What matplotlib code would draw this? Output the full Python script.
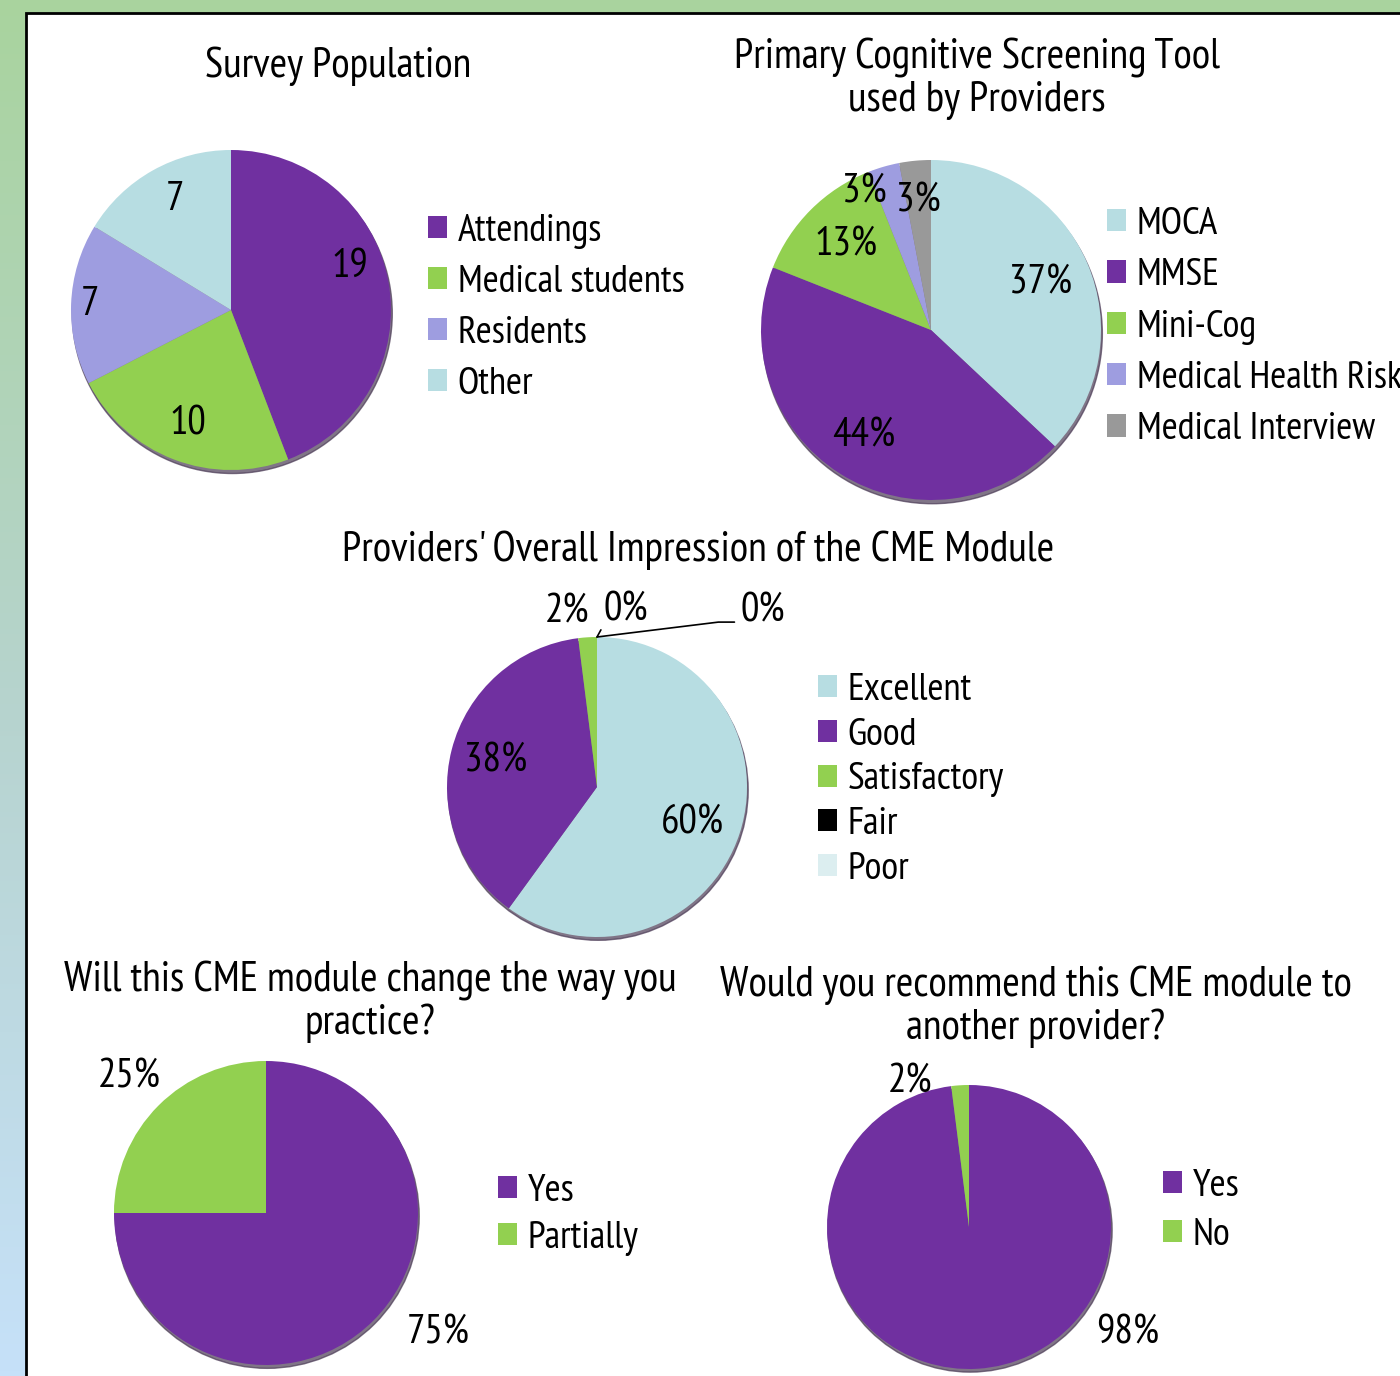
import numpy as np
import matplotlib
matplotlib.use('Agg')
import matplotlib.pyplot as plt
from matplotlib.patches import Rectangle, Circle

plt.rcParams['font.family'] = ['PT Sans Narrow', 'DejaVu Sans']

# ---- data ----
pop_labels = ['Attendings', 'Medical students', 'Residents', 'Other']
pop_values = [19, 10, 7, 7]

tool_labels = ['MOCA', 'MMSE', 'Mini-Cog', 'Medical Health Risk', 'Medical Interview']
tool_values = [37, 44, 13, 3, 3]

imp_labels = ['Excellent', 'Good', 'Satisfactory', 'Fair', 'Poor']
imp_values = [60, 38, 2, 0, 0]

change_labels = ['Yes', 'Partially']
change_values = [75, 25]

rec_labels = ['Yes', 'No']
rec_values = [98, 2]

PURPLE = '#7030a0'
GREEN = '#92d050'
LAVENDER = '#9e9de0'
LIGHTBLUE = '#b7dde2'
GREY = '#999999'
PALE = '#dceef0'

TITLE_SIZE = 30.5
LEGEND_SIZE = 28
LABEL_SIZE = 29.5

W, H = 1400, 1376
fig = plt.figure(figsize=(W / 100, H / 100), dpi=100)

# background gradient + white frame
bg = fig.add_axes([0, 0, 1, 1])
stops = np.array([[169, 211, 158], [182, 211, 205], [198, 225, 249]]) / 255
t = np.linspace(0, 1, 256)
grad = np.stack([np.interp(t, [0, 0.5, 1], stops[:, i]) for i in range(3)], axis=1)
bg.imshow(grad[:, None, :], aspect='auto', extent=[0, 1, 0, 1])
bg.add_patch(Rectangle((26 / W, -0.01), 1.0, 1 - 13 / H + 0.01, facecolor='white',
                       edgecolor='black', linewidth=2))
bg.set_xlim(0, 1)
bg.set_ylim(0, 1)
bg.axis('off')


def pie_axes(cx, cy, r):
    ax = fig.add_axes([(cx - r) / W, 1 - (cy + r) / H, 2 * r / W, 2 * r / H])
    return ax


def draw_pie(ax, values, colors):
    ax.add_patch(Circle((0.008, -0.022), 1.0, color='#4a3a55', alpha=0.7, zorder=0,
                        clip_on=False))
    wedges, _ = ax.pie(values, colors=colors, startangle=90, counterclock=False,
                       radius=1, wedgeprops=dict(linewidth=0))
    for w in wedges:
        w.set_clip_on(False)
    ax.set_xlim(-1, 1)
    ax.set_ylim(-1, 1)
    ax.axis('off')
    return wedges


def label(ax, wedge, text, dist, off=(0, 0)):
    ang = np.deg2rad((wedge.theta1 + wedge.theta2) / 2)
    x, y = dist * np.cos(ang), dist * np.sin(ang)
    ax.annotate(text, (x, y), xytext=off, textcoords='offset pixels',
                ha='center', va='center', fontsize=LABEL_SIZE)


def legend(wedges, labels, x, y, spacing):
    fig.legend(wedges, labels, loc='upper left', bbox_to_anchor=(x / W, 1 - y / H),
               frameon=False, fontsize=LEGEND_SIZE, handlelength=0.5, handleheight=0.5,
               handletextpad=0.26, labelspacing=spacing, borderaxespad=0, borderpad=0)


def title(x, y, text):
    fig.text(x / W, 1 - y / H, text, ha='center', va='center', fontsize=TITLE_SIZE,
             linespacing=1.1)


# 1. Survey Population
ax1 = pie_axes(231, 310, 160)
w1 = draw_pie(ax1, pop_values, [PURPLE, GREEN, LAVENDER, LIGHTBLUE])
label(ax1, w1[0], str(pop_values[0]), 0.78, off=(-4, 21))
label(ax1, w1[1], str(pop_values[1]), 0.76)
label(ax1, w1[2], str(pop_values[2]), 0.88)
label(ax1, w1[3], str(pop_values[3]), 0.79, off=(6, 0))
title(338, 66, 'Survey Population')
legend(w1, pop_labels, 428, 214, 0.41)

# 2. Primary Cognitive Screening Tool
ax2 = pie_axes(931, 330, 170)
w2 = draw_pie(ax2, tool_values, [LIGHTBLUE, PURPLE, GREEN, LAVENDER, GREY])
for w, v, d in zip(w2[:3], tool_values[:3], [0.70, 0.74, 0.71]):
    label(ax2, w, f'{v}%', d)
label(ax2, w2[3], f'{tool_values[3]}%', 0.9, off=(-24, -9))
label(ax2, w2[4], f'{tool_values[4]}%', 0.78, off=(0, -3))
title(977, 79, 'Primary Cognitive Screening Tool\nused by Providers')
legend(w2, tool_labels, 1107, 207, 0.42)

# 3. Overall impression
ax3 = pie_axes(597, 787, 150)
w3 = draw_pie(ax3, imp_values, [LIGHTBLUE, PURPLE, GREEN, 'black', PALE])
label(ax3, w3[0], f'{imp_values[0]}%', 0.67, off=(0, -5))
label(ax3, w3[1], f'{imp_values[1]}%', 0.70)
label(ax3, w3[2], f'{imp_values[2]}%', 1.0, off=(-21, 25))
ax3.annotate(f'{imp_values[3]}%', (0, 1), xytext=(29, 27), textcoords='offset pixels',
             ha='center', va='center', fontsize=LABEL_SIZE,
             arrowprops=dict(arrowstyle='-', color='black', lw=1.2, shrinkA=0, shrinkB=0,
                             relpos=(0, 0.1)))
ax3.annotate(f'{imp_values[4]}%', (0, 1), xytext=(143, 26), textcoords='offset pixels',
             ha='left', va='center', fontsize=LABEL_SIZE,
             arrowprops=dict(arrowstyle='-', color='black', lw=1.2, shrinkA=2, shrinkB=0,
                             relpos=(0, 0.2),
                             connectionstyle='angle,angleA=180,angleB=7,rad=0'))
title(698, 550, "Providers' Overall Impression of the CME Module")
legend(w3, imp_labels, 818, 673, 0.25)

# 4. Change practice
ax4 = pie_axes(266, 1213, 152)
w4 = draw_pie(ax4, change_values, [PURPLE, GREEN])
label(ax4, w4[0], f'{change_values[0]}%', 1.0, off=(65, -12))
label(ax4, w4[1], f'{change_values[1]}%', 1.0, off=(-29, 29))
title(370, 1002, 'Will this CME module change the way you\npractice?')
legend(w4, change_labels, 498, 1174, 0.31)

# 5. Recommend
ax5 = pie_axes(969, 1227, 142)
w5 = draw_pie(ax5, rec_values, [PURPLE, GREEN])
label(ax5, w5[0], f'{rec_values[0]}%', 1.0, off=(150, 36))
label(ax5, w5[1], f'{rec_values[1]}%', 1.0, off=(-50, 3))
title(1036, 1007, 'Would you recommend this CME module to\nanother provider?')
legend(w5, rec_labels, 1163, 1169, 0.36)

fig.savefig('out.png', dpi=100)
